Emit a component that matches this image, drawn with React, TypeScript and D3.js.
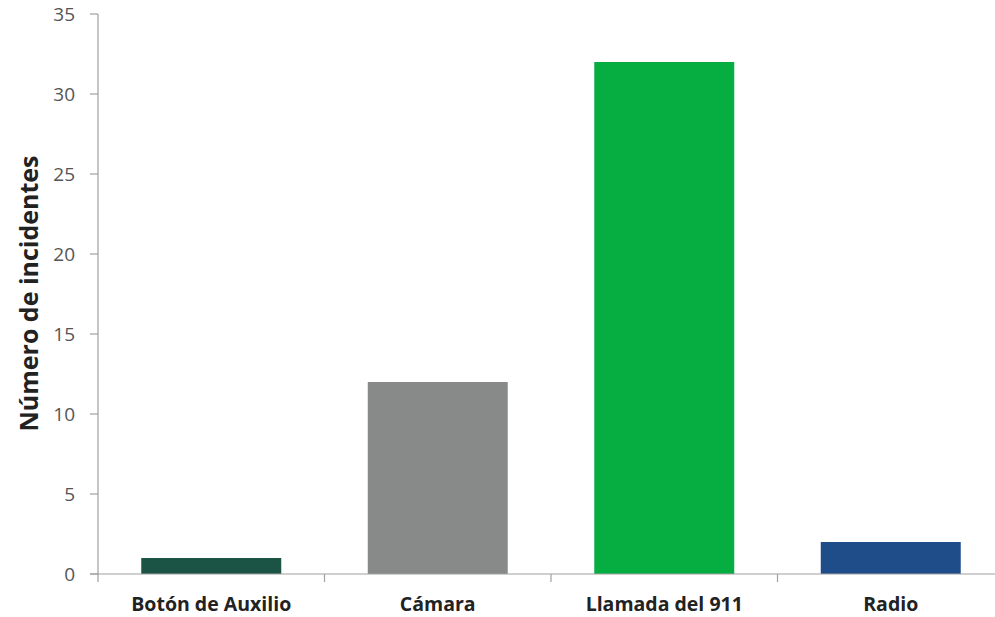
import React, { useRef, useEffect } from 'react';
import * as d3 from 'd3';

const categories = ['Botón de Auxilio', 'Cámara', 'Llamada del 911', 'Radio'];
const incidents = [1, 12, 32, 2];
const barColors = ['#1b5444', '#878a89', '#06ad41', '#1f4d89'];
const yTicks = [0, 5, 10, 15, 20, 25, 30, 35];

const width = 995;
const height = 617;

const App: React.FC = () => {
    const svgRef = useRef<SVGSVGElement | null>(null);

    useEffect(() => {
        if (!svgRef.current) return;
        const svg = d3.select(svgRef.current);
        svg.selectAll('*').remove();

        const left = 98;
        const top = 14;
        const bottom = 574;

        const x = d3.scaleBand<string>()
            .domain(categories)
            .range([left, left + 4 * 226.5])
            .paddingInner(0.382)
            .paddingOuter(0.191);

        const y = d3.scaleLinear()
            .domain([0, 35])
            .range([bottom, top]);

        const axisColor = '#a0a0a0';

        // y axis
        const yAxis = svg.append('g');
        yAxis.append('line')
            .attr('x1', left).attr('x2', left)
            .attr('y1', y(35)).attr('y2', y(0))
            .attr('stroke', axisColor).attr('stroke-width', 1.2);
        yTicks.forEach(t => {
            yAxis.append('line')
                .attr('x1', left - 8).attr('x2', left)
                .attr('y1', y(t)).attr('y2', y(t))
                .attr('stroke', axisColor).attr('stroke-width', 1.2);
            yAxis.append('text')
                .attr('x', left - 23)
                .attr('y', y(t))
                .attr('dy', '0.36em')
                .attr('text-anchor', 'end')
                .style('font-family', '"Open Sans", sans-serif')
                .style('font-size', '19px')
                .style('fill', '#555')
                .text(t);
        });

        // bars
        svg.append('g')
            .selectAll('rect')
            .data(incidents)
            .enter()
            .append('rect')
            .attr('x', (_d, i) => x(categories[i]) as number)
            .attr('y', d => y(d))
            .attr('width', x.bandwidth())
            .attr('height', d => y(0) - y(d))
            .attr('fill', (_d, i) => barColors[i]);

        // x axis
        const xAxis = svg.append('g');
        xAxis.append('line')
            .attr('x1', left - 8).attr('x2', width)
            .attr('y1', y(0)).attr('y2', y(0))
            .attr('stroke', axisColor).attr('stroke-width', 1.2);
        const step = x.step();
        categories.forEach((c, i) => {
            const tx = left + i * step;
            xAxis.append('line')
                .attr('x1', tx).attr('x2', tx)
                .attr('y1', y(0)).attr('y2', y(0) + 8)
                .attr('stroke', axisColor).attr('stroke-width', 1.2);
            xAxis.append('text')
                .attr('x', (x(c) as number) + x.bandwidth() / 2)
                .attr('y', 611)
                .attr('text-anchor', 'middle')
                .style('font-family', '"Open Sans", sans-serif')
                .style('font-size', '19.5px')
                .style('font-weight', 'bold')
                .style('fill', '#222')
                .text(c);
        });

        // y title
        svg.append('text')
            .attr('transform', `translate(29, ${(157 + 430) / 2}) rotate(-90)`)
            .attr('text-anchor', 'middle')
            .attr('dy', '0.36em')
            .style('font-family', '"Open Sans", sans-serif')
            .style('font-size', '25px')
            .style('font-weight', 'bold')
            .style('fill', '#222')
            .text('Número de incidentes');
    }, []);

    return (
        <div style={{ position: 'absolute', left: 0, top: 0, background: '#fff' }}>
            <svg ref={svgRef} width={width} height={height} style={{ display: 'block' }}></svg>
        </div>
    );
};

export default App;
